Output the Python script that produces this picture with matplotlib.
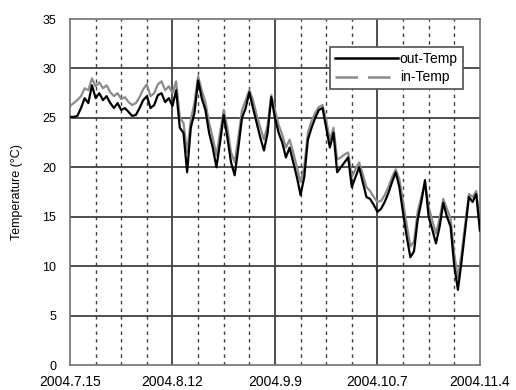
import numpy as np
import matplotlib
matplotlib.use("Agg")
import matplotlib.pyplot as plt
from matplotlib.lines import Line2D

plt.rcParams['font.family'] = ['Liberation Sans', 'DejaVu Sans']

# daily values from 2004.7.15 (day 0) to 2004.11.4 (day 112)
out_temp = [25.1, 25.1, 25.2, 26.0, 27.0, 26.5, 28.3, 27.0, 27.5, 26.8,
            27.2, 26.5, 26.0, 26.5, 25.8, 26.0, 25.6, 25.2, 25.3, 26.0,
            26.8, 27.2, 26.0, 26.3, 27.3, 27.5, 26.6, 27.0, 26.2, 27.8,
            24.0, 23.5, 19.5, 24.0, 25.5, 28.8, 27.0, 25.8, 23.5, 22.0,
            20.0, 22.5, 25.3, 23.0, 20.5, 19.2, 22.0, 25.0, 26.0, 27.6,
            26.0, 24.5, 23.0, 21.7, 23.5, 27.1, 25.0, 23.5, 22.5, 21.0,
            22.0, 20.5, 19.0, 17.2, 19.0, 22.8, 24.0, 25.0, 25.8, 26.0,
            24.0, 22.0, 23.5, 19.5, 20.0, 20.5, 21.0, 18.0, 19.0, 20.0,
            18.5, 17.0, 16.8, 16.2, 15.5, 15.8, 16.5, 17.4, 18.5, 19.5,
            18.0, 15.4, 13.0, 10.9, 11.5, 14.7, 16.5, 18.7, 15.0, 13.7,
            12.3, 14.0, 16.4, 15.0, 14.0, 10.0, 7.6, 10.5, 13.7, 17.0,
            16.5, 17.3, 13.6]
in_temp = [26.2, 26.5, 26.8, 27.2, 28.0, 27.8, 29.0, 28.2, 28.6, 28.0,
           28.3, 27.6, 27.2, 27.5, 26.9, 27.1, 26.6, 26.3, 26.5, 27.1,
           27.9, 28.4, 27.2, 27.5, 28.4, 28.7, 27.8, 28.2, 27.5, 28.7,
           25.0, 24.5, 21.5, 24.8, 26.5, 29.2, 27.8, 26.6, 24.5, 23.0,
           21.2, 23.5, 25.8, 24.0, 21.5, 20.5, 23.0, 25.8, 26.8, 27.8,
           26.8, 25.3, 24.0, 22.8, 24.3, 27.3, 25.8, 24.3, 23.3, 22.0,
           22.8, 21.5, 20.0, 18.5, 20.0, 23.5, 24.7, 25.5, 26.1, 26.3,
           24.8, 22.8, 24.0, 20.8, 21.0, 21.3, 21.5, 19.0, 19.8, 20.5,
           19.3, 18.0, 17.6, 17.0, 16.5, 16.6, 17.2, 18.0, 19.0, 19.8,
           18.8, 16.5, 14.2, 12.0, 12.5, 15.5, 17.0, 18.4, 16.0, 14.6,
           13.3, 14.8, 16.8, 15.8, 14.8, 11.2, 8.8, 11.3, 14.3, 17.3,
           17.0, 17.6, 14.5]
tick_labels = ['2004.7.15', '2004.8.12', '2004.9.9', '2004.10.7', '2004.11.4']

days = np.arange(len(out_temp))

fig = plt.figure(figsize=(5.16, 3.9), dpi=100)
ax = fig.add_axes([0.1357, 0.0641, 0.7943, 0.887])

# grid
for d in range(7, 112, 7):
    if d % 28:
        ax.axvline(d, color='#404040', lw=1.0, ls=(0, (2.5, 3)), zorder=1)
for d in (28, 56, 84):
    ax.axvline(d, color='#303030', lw=1.2, zorder=1)
for y in range(5, 35, 5):
    ax.axhline(y, color='#404040', lw=1.3, zorder=1)

ax.plot(days, in_temp, color='#8c8c8c', lw=1.6, zorder=2)
ax.plot(days, out_temp, color='black', lw=1.6, zorder=3)

ax.set_xlim(0, 112)
ax.set_ylim(0, 35)
ax.set_xticks([0, 28, 56, 84, 112])
ax.set_xticklabels(tick_labels, fontsize=10)
ax.set_yticks(range(0, 36, 5))
ax.tick_params(axis='y', labelsize=9, length=0, pad=10)
ax.tick_params(axis='x', length=0, pad=7)
for s in ax.spines.values():
    s.set_color('#707070')
    s.set_linewidth(1.2)
ax.set_ylabel('Temperature (\u00b0C)', fontsize=9, labelpad=14)

handles = [Line2D([], [], color='black', lw=1.8),
           Line2D([], [], color='#8c8c8c', lw=1.8, dashes=(9, 4))]
leg = ax.legend(handles, ['out-Temp', 'in-Temp'], loc='upper right',
                bbox_to_anchor=(0.975, 0.94), fontsize=10, handlelength=4.6,
                handletextpad=0.1, borderpad=0.35, labelspacing=0.35,
                fancybox=False, framealpha=1)
leg.get_frame().set_edgecolor('#505050')
leg.get_frame().set_linewidth(1.2)

fig.savefig('out.png', dpi=100)
